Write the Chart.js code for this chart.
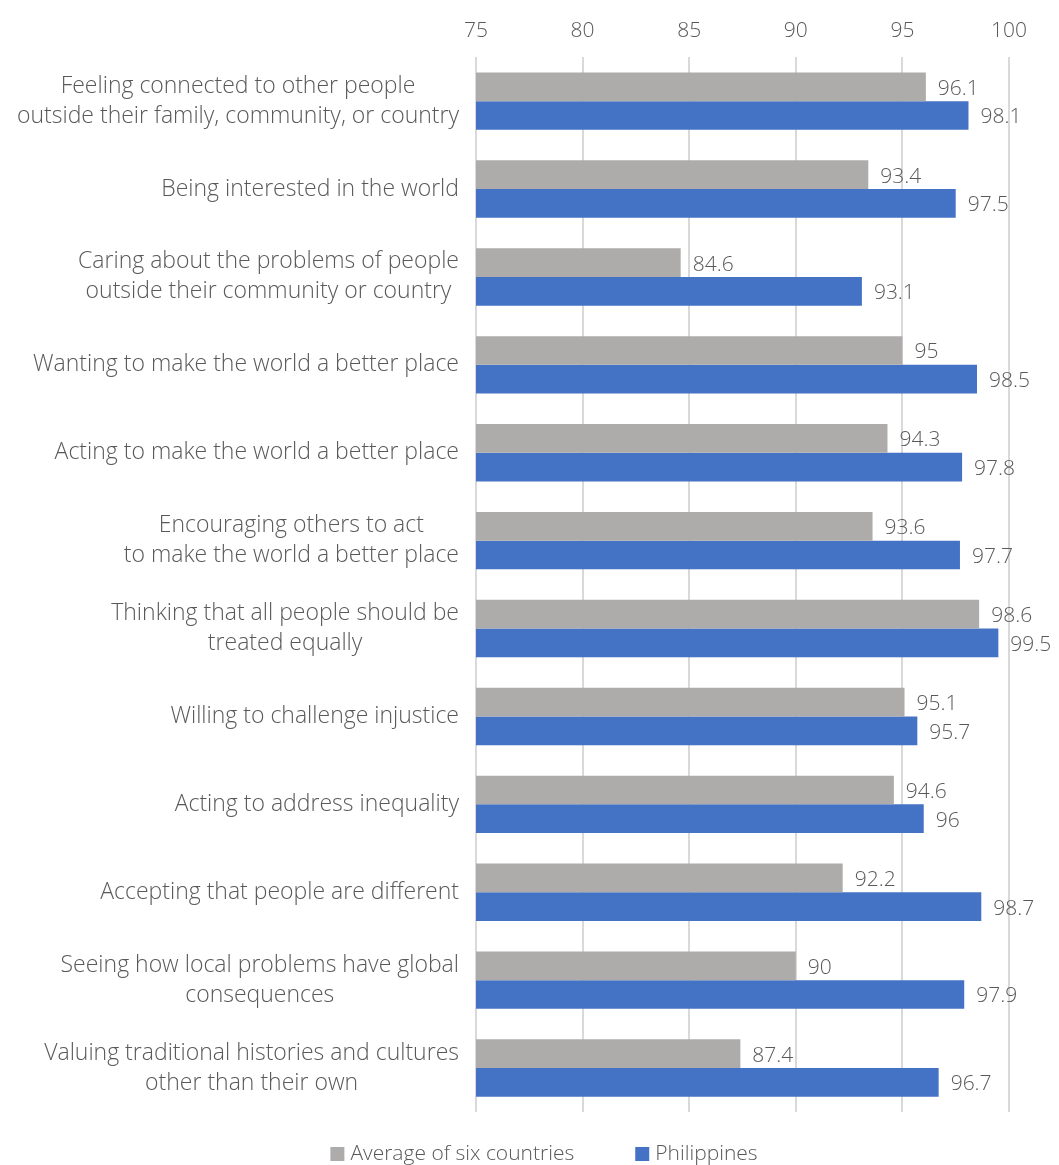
<!DOCTYPE html>
<html>
<head>
<meta charset="utf-8">
<script src="https://cdn.jsdelivr.net/npm/chart.js@4.4.0/dist/chart.umd.min.js"></script>
<style>
  body { margin: 0; background: #fff; }
</style>
</head>
<body>
<canvas id="globalChart" width="1059" height="1165"></canvas>
<script>
// --- DATA ---
const categories = [
    ['Feeling connected to other people', 'outside their family, community, or country'],
    ['Being interested in the world'],
    ['Caring about the problems of people', 'outside their community or country'],
    ['Wanting to make the world a better place'],
    ['Acting to make the world a better place'],
    ['Encouraging others to act', 'to make the world a better place'],
    ['Thinking that all people should be', 'treated equally'],
    ['Willing to challenge injustice'],
    ['Acting to address inequality'],
    ['Accepting that people are different'],
    ['Seeing how local problems have global', 'consequences'],
    ['Valuing traditional histories and cultures', 'other than their own']
];
const averageValues = [96.1, 93.4, 84.6, 95, 94.3, 93.6, 98.6, 95.1, 94.6, 92.2, 90, 87.4];
const philippinesValues = [98.1, 97.5, 93.1, 98.5, 97.8, 97.7, 99.5, 95.7, 96, 98.7, 97.9, 96.7];
const seriesNames = ['Average of six countries', 'Philippines'];
const axisMin = 75;
const axisMax = 100;
const axisStep = 5;

const TEXT_COLOR = '#595959';
const FONT_FAMILY = "'Open Sans', 'Noto Sans', sans-serif";
const FONT_WEIGHT = '300';

// --- PLUGINS ---

// Category labels: each block right-aligned to the axis, lines centred inside the block.
const categoryLabels = {
    id: 'categoryLabels',
    afterDraw(chart) {
        const { ctx } = chart;
        const yScale = chart.scales.y;
        const right = chart.chartArea.left - 17;
        const lineHeight = 30;
        ctx.save();
        ctx.font = `${FONT_WEIGHT} 23px ${FONT_FAMILY}`;
        ctx.fillStyle = TEXT_COLOR;
        ctx.textAlign = 'center';
        ctx.textBaseline = 'middle';
        categories.forEach((lines, i) => {
            const cy = yScale.getPixelForTick(i);
            const maxW = Math.max(...lines.map(l => ctx.measureText(l).width));
            const cx = right - maxW / 2;
            const startY = cy - (lines.length - 1) * lineHeight / 2;
            lines.forEach((line, j) => ctx.fillText(line, cx, startY + j * lineHeight));
        });
        ctx.restore();
    }
};

// Value labels at the end of each bar.
const valueLabels = {
    id: 'valueLabels',
    afterDatasetsDraw(chart) {
        const { ctx } = chart;
        ctx.save();
        ctx.font = `${FONT_WEIGHT} 21px ${FONT_FAMILY}`;
        ctx.fillStyle = TEXT_COLOR;
        ctx.textAlign = 'left';
        ctx.textBaseline = 'middle';
        chart.data.datasets.forEach((ds, di) => {
            chart.getDatasetMeta(di).data.forEach((bar, i) => {
                ctx.fillText(String(ds.data[i]), bar.x + 12, bar.y + 2);
            });
        });
        ctx.restore();
    }
};

// Bottom legend with wide spacing between the two entries.
const wideLegend = {
    id: 'wideLegend',
    afterDraw(chart) {
        const { ctx } = chart;
        const box = 14, boxGap = 6, itemGap = 61, y = 1154;
        ctx.save();
        ctx.font = `${FONT_WEIGHT} 21px ${FONT_FAMILY}`;
        const widths = chart.data.datasets.map(ds => box + boxGap + ctx.measureText(ds.label).width);
        const total = widths.reduce((a, b) => a + b, 0) + itemGap * (widths.length - 1);
        let x = 544 - total / 2;
        ctx.textBaseline = 'middle';
        ctx.textAlign = 'left';
        chart.data.datasets.forEach((ds, i) => {
            ctx.fillStyle = ds.backgroundColor;
            ctx.fillRect(x, y - box / 2, box, box);
            ctx.fillStyle = TEXT_COLOR;
            ctx.fillText(ds.label, x + box + boxGap, y);
            x += widths[i] + itemGap;
        });
        ctx.restore();
    }
};

// --- CHART ---
const ctx = document.getElementById('globalChart').getContext('2d');
new Chart(ctx, {
    type: 'bar',
    data: {
        labels: categories,
        datasets: [{
            label: seriesNames[0],
            data: averageValues,
            backgroundColor: '#AEABAB',
            categoryPercentage: 0.653,
            barPercentage: 1
        }, {
            label: seriesNames[1],
            data: philippinesValues,
            backgroundColor: '#4472C4',
            categoryPercentage: 0.653,
            barPercentage: 1
        }]
    },
    options: {
        indexAxis: 'y',
        responsive: false,
        animation: false,
        layout: { padding: { top: 4, right: 50, bottom: 53, left: 0 } },
        scales: {
            x: {
                position: 'top',
                min: axisMin,
                max: axisMax,
                ticks: {
                    stepSize: axisStep,
                    padding: 14,
                    color: TEXT_COLOR,
                    font: { family: FONT_FAMILY, size: 21, weight: FONT_WEIGHT }
                },
                grid: { color: '#D9D9D9', lineWidth: 2, drawTicks: false },
                border: { display: false }
            },
            y: {
                ticks: { display: false },
                grid: { display: false },
                border: { display: false },
                afterFit(scale) { scale.width = 476; }
            }
        },
        plugins: {
            legend: { display: false },
            tooltip: { enabled: false }
        }
    },
    plugins: [categoryLabels, valueLabels, wideLegend]
});
</script>
</body>
</html>
